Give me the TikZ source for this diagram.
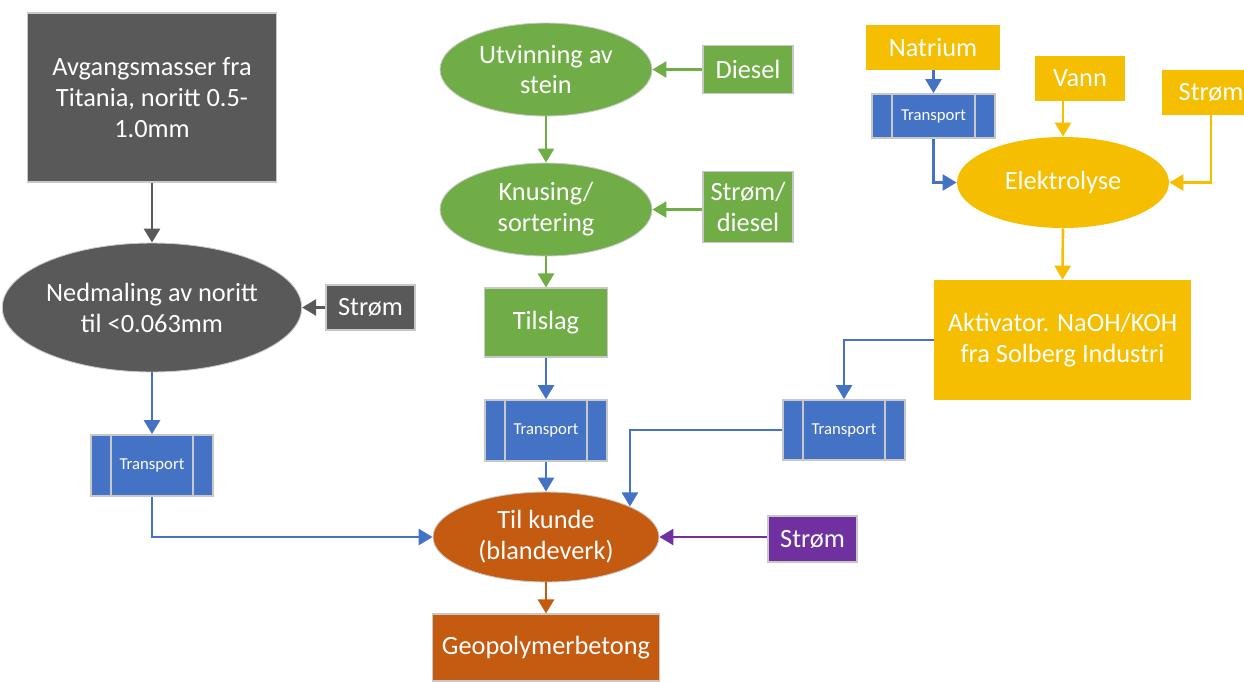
\documentclass[tikz,border=0pt]{standalone}
\usepackage{fontspec}
\setmainfont{Carlito}
\usetikzlibrary{shapes.geometric,arrows.meta}

\definecolor{darkgr}{HTML}{595959}
\definecolor{leaf}{HTML}{70AD47}
\definecolor{rust}{HTML}{C55A11}
\definecolor{sky}{HTML}{4472C4}
\definecolor{amber}{HTML}{F5BE00}
\definecolor{plum}{HTML}{7030A0}
\definecolor{rim}{HTML}{C8C8C8}

\tikzset{
  lbl/.style={text=white, align=center, inner sep=0pt,
    font=\fontsize{15}{17.6}\selectfont},
  box/.style={lbl, rectangle, draw=rim, line width=0.6pt},
  ybox/.style={lbl, rectangle, draw=none},
  oval/.style={lbl, ellipse, draw=rim, line width=0.5pt},
  tbox/.style={rectangle, fill=sky, draw=rim, line width=1pt, text=white,
    inner sep=0pt, minimum width=2.44cm,
    font=\fontsize{9.5}{11}\selectfont,
    path picture={
      \draw[rim, line width=1pt]
        ([xshift=0.4cm]path picture bounding box.north west) --
        ([xshift=0.4cm]path picture bounding box.south west)
        ([xshift=-0.4cm]path picture bounding box.north east) --
        ([xshift=-0.4cm]path picture bounding box.south east);}},
  conn/.style={line width=1.5pt, -{Triangle[width=0.32cm,length=0.28cm]}}
}

\begin{document}
\begin{tikzpicture}[x=0.02cm, y=-0.02cm]
\useasboundingbox (0,0) rectangle (1244,681);

% left column: noritt
\node[box, fill=darkgr, minimum width=4.98cm, minimum height=3.38cm]
  (src) at (152,97.5) {Avgangsmasser fra\\Titania, noritt 0.5-\\1.0mm};
\node[oval, fill=darkgr, minimum width=5.56cm, minimum height=2.58cm]
  (mill) at (152,307.5) {Nedmaling av noritt\\til <0.063mm};
\node[box, fill=darkgr, minimum width=1.78cm, minimum height=0.9cm]
  (pwrA) at (370.5,307.5) {Strøm};
\node[tbox, minimum height=1.22cm] (trA) at (152,465.5) {Transport};

% middle column: stone
\node[oval, fill=leaf, minimum width=4.24cm, minimum height=1.86cm]
  (quarry) at (546,69.5) {Utvinning av\\stein};
\node[box, fill=leaf, minimum width=1.8cm, minimum height=0.96cm]
  (diesel) at (748,69.5) {Diesel};
\node[oval, fill=leaf, minimum width=4.24cm, minimum height=1.86cm]
  (crush) at (546,209.5) {Knusing/\\sortering};
\node[box, fill=leaf, minimum width=1.8cm, minimum height=1.42cm]
  (pwrdie) at (748,207) {Strøm/\\diesel};
\node[box, fill=leaf, minimum width=2.46cm, minimum height=1.38cm]
  (aggr) at (546,322.5) {Tilslag};
\node[tbox, minimum height=1.22cm] (trB) at (546,430.5) {Transport};

% customer and product
\node[oval, fill=rust, minimum width=4.52cm, minimum height=1.8cm]
  (cust) at (546,537) {Til kunde\\(blandeverk)};
\node[box, fill=rust, minimum width=4.54cm, minimum height=1.34cm]
  (geo) at (546,647.5) {Geopolymerbetong};
\node[box, fill=plum, minimum width=1.78cm, minimum height=0.92cm]
  (pwrC) at (812.5,539) {Strøm};

% right column: activator
\node[ybox, fill=amber, minimum width=2.68cm, minimum height=0.9cm]
  (natr) at (933,47.5) {Natrium};
\node[tbox, minimum width=2.46cm, minimum height=0.88cm] (trC) at (933.5,116) {Transport};
\node[ybox, fill=amber, minimum width=1.8cm, minimum height=0.9cm]
  (water) at (1080,78.5) {Vann};
\node[ybox, fill=amber, minimum width=1.96cm, minimum height=0.9cm]
  (pwrY) at (1211,92.5) {Strøm};
\node[oval, draw=none, fill=amber, minimum width=4.24cm, minimum height=1.82cm]
  (elec) at (1063,182.5) {Elektrolyse};
\node[ybox, fill=amber, minimum width=5.14cm, minimum height=2.4cm]
  (activ) at (1062.5,340) {Aktivator. NaOH/KOH\\fra Solberg Industri};
\node[tbox, minimum height=1.2cm] (trD) at (844,430) {Transport};

% connectors
\draw[conn, darkgr] (src.south) -- (mill.north);
\draw[conn, darkgr] (pwrA.west) -- (mill.east);
\draw[conn, sky] (mill.south) -- (trA.north);
\draw[conn, sky] (trA.south) |- (cust.west);

\draw[conn, leaf] (quarry.south) -- (crush.north);
\draw[conn, leaf] (diesel.west) -- (quarry.east);
\draw[conn, leaf] (pwrdie.west |- crush.east) -- (crush.east);
\draw[conn, leaf] (crush.south) -- (aggr.north);
\draw[conn, sky] (aggr.south) -- (trB.north);
\draw[conn, sky] (trB.south) -- (cust.north);

\draw[conn, rust] (cust.south) -- (geo.north);
\draw[conn, plum] (pwrC.west |- cust.east) -- (cust.east);

\draw[conn, sky] (natr.south -| trC.north) -- (trC.north);
\draw[conn, sky] (trC.south) |- (elec.west);
\draw[conn, amber] (water.south -| elec.north) -- (elec.north);
\draw[conn, amber] (pwrY.south) |- (elec.east);
\draw[conn, amber] (elec.south) -- (activ.north);
\draw[conn, sky] (activ.west) -| (trD.north);
\draw[conn, sky] (trD.west) -| (cust.20);
\end{tikzpicture}
\end{document}
